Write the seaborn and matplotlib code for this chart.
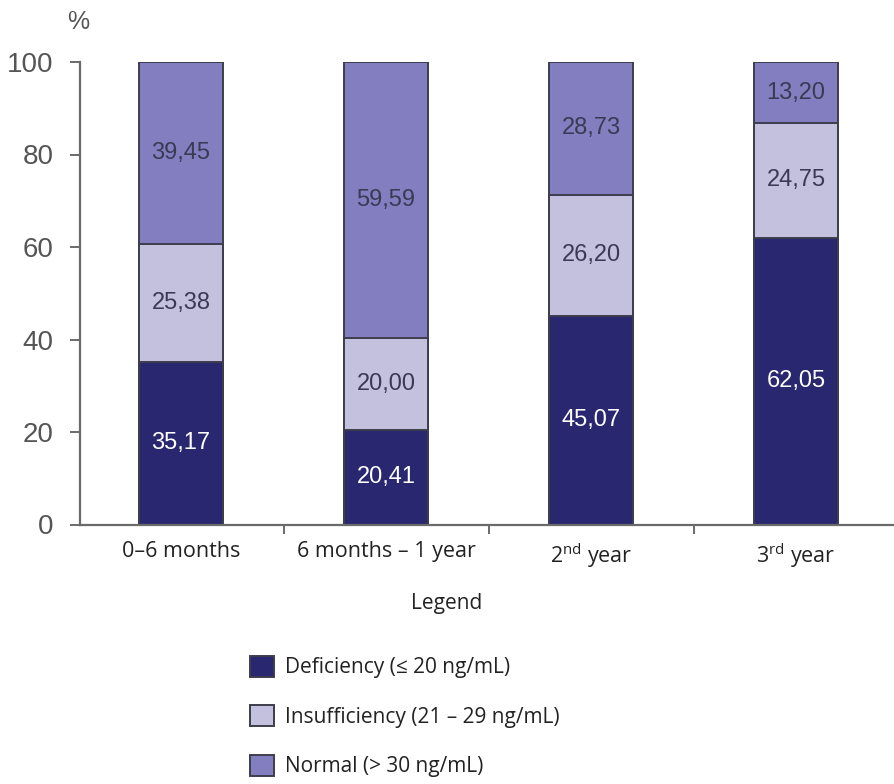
"""
Vitamin D status by age group - stacked percentage bars.
"""
import pandas as pd
import matplotlib
matplotlib.use("Agg")
import matplotlib.pyplot as plt
from matplotlib.patches import Patch
from matplotlib.ticker import FixedLocator
import seaborn as sns

# data
age_groups = ["0–6 months", "6 months – 1 year", "2$^{\\mathrm{nd}}$ year", "3$^{\\mathrm{rd}}$ year"]
deficiency = [35.17, 20.41, 45.07, 62.05]
insufficiency = [25.38, 20.00, 26.20, 24.75]
normal = [39.45, 59.59, 28.73, 13.20]

status_labels = ["Deficiency (≤ 20 ng/mL)", "Insufficiency (21 – 29 ng/mL)", "Normal (> 30 ng/mL)"]
status_colors = ["#28276f", "#c3c1dd", "#827ebf"]
edge_color = "#3d3d4d"

def main():
    sns.set_style("white")
    plt.rcParams["font.family"] = ["Open Sans", "DejaVu Sans"]
    plt.rcParams["mathtext.fontset"] = "custom"
    plt.rcParams["mathtext.rm"] = "Open Sans"

    # cumulative tops so the segments can be overlapped (tallest drawn first)
    rows = []
    for i, grp in enumerate(age_groups):
        d, ins, n = deficiency[i], insufficiency[i], normal[i]
        rows.append({"age": grp, "status": status_labels[2], "top": d + ins + n})
        rows.append({"age": grp, "status": status_labels[1], "top": d + ins})
        rows.append({"age": grp, "status": status_labels[0], "top": d})
    df = pd.DataFrame(rows)

    fig = plt.figure(figsize=(8.95, 7.84), dpi=100)
    ax = fig.add_axes([80 / 895, 1 - 524.5 / 784, 1 - 80 / 895, (524.5 - 62) / 784])

    sns.barplot(
        data=df, x="age", y="top", hue="status",
        hue_order=[status_labels[2], status_labels[1], status_labels[0]],
        palette=[status_colors[2], status_colors[1], status_colors[0]],
        dodge=False, width=0.41, edgecolor=edge_color, linewidth=1.4,
        legend=False, ax=ax, saturation=1,
    )

    # segment values
    for i in range(len(age_groups)):
        d, ins, n = deficiency[i], insufficiency[i], normal[i]
        segs = [(d / 2, d, "white"), (d + ins / 2, ins, "#3a3a55"), (d + ins + n / 2, n, "#3a3a55")]
        for y, v, c in segs:
            ax.text(i, y, f"{v:.2f}".replace(".", ","), ha="center", va="center",
                    fontsize=17, color=c, family="Liberation Sans")

    ax.set_xlim(-0.493, 3.483)
    ax.set_ylim(0, 100)
    ax.set_xlabel("")
    ax.set_ylabel("")

    for s in ["top", "right"]:
        ax.spines[s].set_visible(False)
    for s in ["left", "bottom"]:
        ax.spines[s].set_color("#6a6a6a")
        ax.spines[s].set_linewidth(1.6)

    ax.set_yticks([0, 20, 40, 60, 80, 100])
    ax.tick_params(axis="y", direction="out", length=7, width=1.4, color="#6a6a6a",
                   pad=12, labelsize=20, labelcolor="#555555", left=True)
    for lab in ax.get_yticklabels():
        lab.set_family("Liberation Sans")

    ax.tick_params(axis="x", which="major", length=0, pad=12, labelsize=15.5, labelcolor="#222222")
    ax.xaxis.set_minor_locator(FixedLocator([0.5, 1.5, 2.5]))
    ax.tick_params(axis="x", which="minor", direction="out", length=6.5, width=1.4,
                   color="#6a6a6a", bottom=True)

    fig.text(78 / 895, 1 - 22 / 784, "%", ha="center", va="center", fontsize=18,
             color="#555555", family="Liberation Sans")
    fig.text(447 / 895, 1 - 603 / 784, "Legend", ha="center", va="center",
             fontsize=15, color="#222222")

    handles = [Patch(facecolor=c, edgecolor=edge_color, linewidth=1.4) for c in status_colors]
    fig.legend(handles, status_labels, loc="upper left",
               bbox_to_anchor=(250 / 895, 1 - 656 / 784), frameon=False,
               fontsize=15, handlelength=1.15, handleheight=1.15, handletextpad=0.55,
               labelspacing=1.3, borderpad=0, borderaxespad=0, labelcolor="#222222")

    fig.savefig("out.png", dpi=100)

if __name__ == "__main__":
    main()
